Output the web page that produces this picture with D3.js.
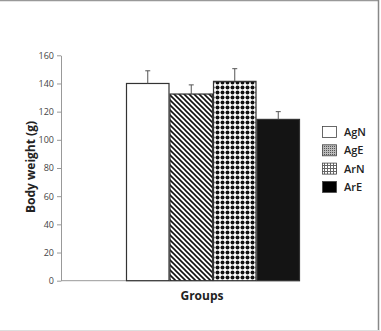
<!DOCTYPE html>
<html><head><meta charset="utf-8">
<script src="https://cdn.jsdelivr.net/npm/d3@7"></script>
<style>body{margin:0;background:#fff}svg{display:block}</style>
</head><body>
<script>
const groups = ["AgN","AgE","ArN","ArE"];
const means = [140, 132.5, 141.5, 114.5];
const errors = [9, 6.5, 9, 5.5];
const yTicks = [0,20,40,60,80,100,120,140,160];

const W=381,H=331;
const svg=d3.select("body").append("svg").attr("width",W).attr("height",H);
const defs=svg.append("defs");
const p1=defs.append("pattern").attr("id","diag").attr("patternUnits","userSpaceOnUse")
  .attr("width",5).attr("height",5);
p1.append("rect").attr("width",5).attr("height",5).attr("fill","#fff");
p1.append("path").attr("d","M-1,-1 L6,6 M-1,4 L1,6 M4,-1 L6,1").attr("stroke","#111").attr("stroke-width",1.6);
const p2=defs.append("pattern").attr("id","dots").attr("patternUnits","userSpaceOnUse")
  .attr("width",5).attr("height",5);
p2.append("rect").attr("width",5).attr("height",5).attr("fill","#fff");
p2.append("circle").attr("cx",2.5).attr("cy",2.5).attr("r",2).attr("fill","#111");
const p3=defs.append("pattern").attr("id","stip").attr("patternUnits","userSpaceOnUse")
  .attr("width",2).attr("height",2);
p3.append("rect").attr("width",2).attr("height",2).attr("fill","#bbb");
p3.append("rect").attr("width",1).attr("height",1).attr("fill","#555");
const p4=defs.append("pattern").attr("id","grid").attr("patternUnits","userSpaceOnUse")
  .attr("width",3).attr("height",3);
p4.append("rect").attr("width",3).attr("height",3).attr("fill","#fff");
p4.append("path").attr("d","M0,0.5H3M0.5,0V3").attr("stroke","#666").attr("stroke-width",1);

const fills=["#fff","url(#diag)","url(#dots)","#141414"];
const legFills=["#fff","url(#stip)","url(#grid)","#000"];

svg.append("line").attr("x1",0).attr("x2",379).attr("y1",0.5).attr("y2",0.5).attr("stroke","#999").attr("stroke-width",1.5);
svg.append("line").attr("x1",378.5).attr("x2",378.5).attr("y1",0).attr("y2",331).attr("stroke","#888").attr("stroke-width",1.5);
svg.append("line").attr("x1",0).attr("x2",379).attr("y1",330.5).attr("y2",330.5).attr("stroke","#ddd");

const x0=61, x1=300, yTop=55.3, yBot=280.7;
const y=d3.scaleLinear().domain([0,160]).range([yBot,yTop]);
const x=d3.scaleBand().domain(groups).range([126,300]).padding(0);

const ax=svg.append("g").attr("transform",`translate(${x0},0)`)
  .call(d3.axisLeft(y).tickValues(yTicks).tickSize(4).tickSizeOuter(0));
ax.select(".domain").attr("stroke","#999");
ax.selectAll(".tick line").attr("stroke","#999");
ax.selectAll("text").attr("fill","#444").style("font-family","Open Sans").style("font-size","9px");

svg.append("line").attr("x1",x0).attr("x2",x1).attr("y1",yBot).attr("y2",yBot).attr("stroke","#999");

svg.selectAll("rect.bar").data(groups).join("rect").attr("class","bar")
  .attr("x",d=>x(d)+0.5).attr("width",x.bandwidth()-1)
  .attr("y",(d,i)=>y(means[i])).attr("height",(d,i)=>yBot-y(means[i]))
  .attr("fill",(d,i)=>fills[i]).attr("stroke","#333").attr("stroke-width",1.2);

groups.forEach((g,i)=>{
  const cx=x(g)+x.bandwidth()/2;
  svg.append("line").attr("x1",cx).attr("x2",cx).attr("y1",y(means[i])).attr("y2",y(means[i]+errors[i])).attr("stroke","#555").attr("stroke-width",1);
  svg.append("line").attr("x1",cx-2.5).attr("x2",cx+2.5).attr("y1",y(means[i]+errors[i])).attr("y2",y(means[i]+errors[i])).attr("stroke","#555").attr("stroke-width",1);
});

groups.forEach((g,i)=>{
  const ly=126+i*18.3;
  svg.append("rect").attr("x",322.5).attr("y",ly+0.5).attr("width",14).attr("height",11)
    .attr("fill",legFills[i]).attr("stroke","#444").attr("stroke-width",0.8);
  svg.append("text").attr("x",344).attr("y",ly+10).text(g)
    .style("font-family","Open Sans").style("font-size","11px").style("font-weight","600").attr("fill","#222");
});

svg.append("text").attr("transform","translate(35,167) rotate(-90)").attr("text-anchor","middle")
  .text("Body weight (g)").style("font-family","Open Sans").style("font-weight","bold").style("font-size","12px").attr("fill","#222");
svg.append("text").attr("x",202).attr("y",300).attr("text-anchor","middle")
  .text("Groups").style("font-family","Open Sans").style("font-weight","bold").style("font-size","12px").attr("fill","#222");
</script>
</body></html>
